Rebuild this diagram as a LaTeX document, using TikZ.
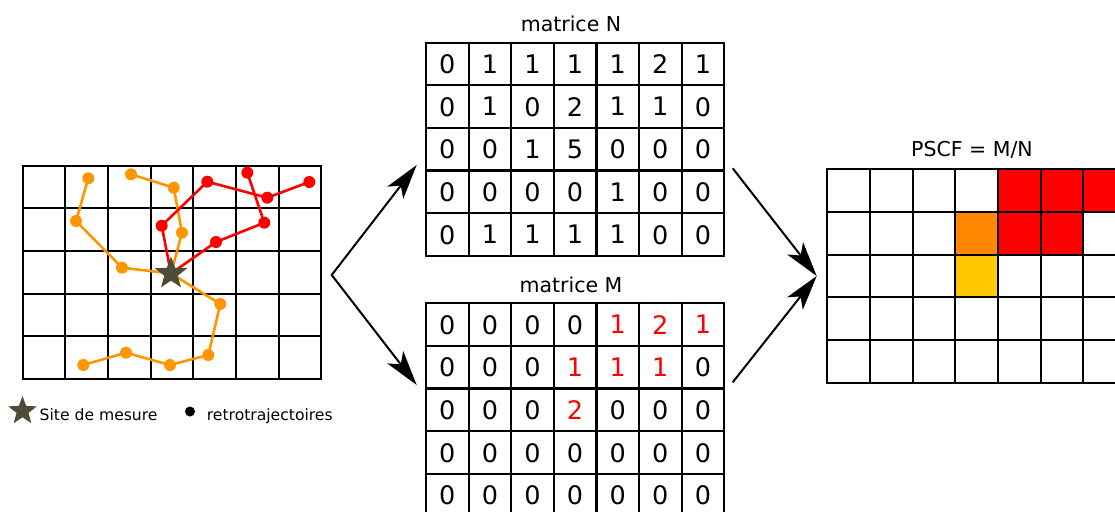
\documentclass[tikz,border=0pt]{standalone}
\usepackage{fontspec}
\setmainfont{DejaVu Sans}
\usetikzlibrary{shapes.geometric,arrows.meta}
\definecolor{trajorange}{RGB}{255,150,0}
\definecolor{trajred}{RGB}{255,0,0}
\definecolor{sitecol}{RGB}{77,77,55}
\definecolor{cellred}{RGB}{255,0,0}
\definecolor{cellorange}{RGB}{255,136,0}
\definecolor{cellyellow}{RGB}{255,200,0}
\newcommand\reddig[1]{\textcolor{red}{#1}}
\newcommand\mygrid[3]{% x0, y0, cell size
  \foreach \i in {0,...,7} \draw[gridline] ({#1+\i*#3},#2) -- ++(0,{5*#3});
  \foreach \j in {0,...,5} \draw[gridline] (#1,{#2+\j*#3}) -- ++({7*#3},0);
}
\tikzset{bigtip/.tip={Stealth[length=35pt, width=20pt, inset=9pt]}}
\begin{document}
\begin{tikzpicture}[x=1pt,y=-1pt,
  gridline/.style={line width=2.2pt, line cap=rect},
  digit/.style={font=\fontsize{25.5}{25.5}\selectfont, inner sep=0pt, text depth=0pt},
  titletext/.style={font=\fontsize{20.5}{20.5}\selectfont, inner sep=0pt, anchor=base},
  legendtext/.style={font=\fontsize{15.6}{15.6}\selectfont, inner sep=0pt, anchor=base west},
  dotor/.style={circle, fill=trajorange, inner sep=0pt, minimum size=12pt},
  dotred/.style={circle, fill=trajred, inner sep=0pt, minimum size=12pt},
  legdot/.style={circle, fill=black, inner sep=0pt, minimum size=10pt},
  sitestar/.style={star, star points=5, star point ratio=2.4, minimum size=34pt, inner sep=0pt, fill=sitecol},
  trajor/.style={draw=trajorange, line width=2.6pt},
  trajrd/.style={draw=trajred, line width=2.6pt},
  arr/.style={line width=2pt, -bigtip},
  arrboth/.style={line width=2pt, bigtip-bigtip}
]
\useasboundingbox (0,0) rectangle (1115,511);
\clip (0,0) rectangle (1115,511);

% ---------------- left grid with back-trajectories ----------------
\mygrid{22.7}{165.7}{42.67}

\coordinate (site) at (171,273.5);
% orange trajectories
\coordinate (oa1) at (88.3,178.3);
\coordinate (oa2) at (76,221);
\coordinate (oa3) at (122,267.7);
\coordinate (ob1) at (131,174.3);
\coordinate (ob2) at (173.7,187.7);
\coordinate (ob3) at (182,232.7);
\coordinate (oc1) at (220.3,304);
\coordinate (oc2) at (208.3,355);
\coordinate (oc3) at (170,365);
\coordinate (oc4) at (126,352.7);
\coordinate (oc5) at (83.3,365);
% red trajectories
\coordinate (ra1) at (247.3,172.7);
\coordinate (ra2) at (264.3,222.7);
\coordinate (ra3) at (216,242);
\coordinate (rb1) at (309.3,182);
\coordinate (rb2) at (267.3,197.7);
\coordinate (rb3) at (207.3,181.7);
\coordinate (rb4) at (161.7,225.7);

\draw[trajor] (oa1) -- (oa2) -- (oa3) -- (site);
\draw[trajor] (ob1) -- (ob2) -- (ob3) -- (site);
\draw[trajor] (site) -- (oc1) -- (oc2) -- (oc3) -- (oc4) -- (oc5);
\draw[trajrd] (ra1) -- (ra2) -- (ra3) -- (site);
\draw[trajrd] (rb1) -- (rb2) -- (rb3) -- (rb4) -- (site);

\foreach \p in {oa1,oa2,oa3,ob1,ob2,ob3,oc1,oc2,oc3,oc4,oc5}
  \node[dotor] (d-\p) at (\p) {};
\foreach \p in {ra1,ra2,ra3,rb1,rb2,rb3,rb4}
  \node[dotred] (d-\p) at (\p) {};

\node[sitestar] (sitenode) at (site) {};

% legend
\node[sitestar, minimum size=30pt] (legstar) at (22.5,411) {};
\node[legendtext] (legsite) at (39.5,420) {Site de mesure};
\node[legdot] (legdot) at (190,411.5) {};
\node[legendtext] (legtraj) at (206.7,420) {retrotrajectoires};

% ---------------- matrice N ----------------
\node[titletext] (titleN) at (571,31.7) {matrice N};
\mygrid{426}{42.7}{42.6}
\foreach \row [count=\r from 0] in {{0,1,1,1,1,2,1},{0,1,0,2,1,1,0},{0,0,1,5,0,0,0},{0,0,0,0,1,0,0},{0,1,1,1,1,0,0}}{
  \foreach \v [count=\c from 0] in \row {
    \node[digit] (N-\r-\c) at ({426+(\c+0.5)*42.6},{42.7+(\r+0.5)*42.66}) {\v};
  }
}

% ---------------- matrice M ----------------
\node[titletext] (titleM) at (571,292.3) {matrice M};
\mygrid{426}{303.3}{42.6}
\foreach \row [count=\r from 0] in {{0,0,0,0,\reddig{1},\reddig{2},\reddig{1}},{0,0,0,\reddig{1},\reddig{1},\reddig{1},0},{0,0,0,\reddig{2},0,0,0},{0,0,0,0,0,0,0},{0,0,0,0,0,0,0}}{
  \foreach \v [count=\c from 0] in \row {
    \node[digit] (M-\r-\c) at ({426+(\c+0.5)*42.6},{303.3+(\r+0.5)*42.66}) {\v};
  }
}

% ---------------- PSCF ----------------
\node[titletext] (titleP) at (972,156.7) {PSCF = M/N};
\fill[cellred] (998,169.3) rectangle (1126,212);
\fill[cellred] (998,212) rectangle (1083.3,254.7);
\fill[cellorange] (955.3,212) rectangle (998,254.7);
\fill[cellyellow] (955.3,254.7) rectangle (998,297.3);
\mygrid{827.3}{169.3}{42.67}

% ---------------- arrows ----------------
\coordinate (src) at (331.7,275);
\coordinate (tipN) at (416.7,165);
\coordinate (tipM) at (416.7,385);
\coordinate (srcN) at (732.7,168.3);
\coordinate (srcM) at (732.7,382.3);
\coordinate (tipP) at (816.7,276);
\draw[arrboth] (tipN) -- (src) -- (tipM);
\draw[arr] (srcN) -- (tipP);
\draw[arr] (srcM) -- (tipP);
\end{tikzpicture}
\end{document}
